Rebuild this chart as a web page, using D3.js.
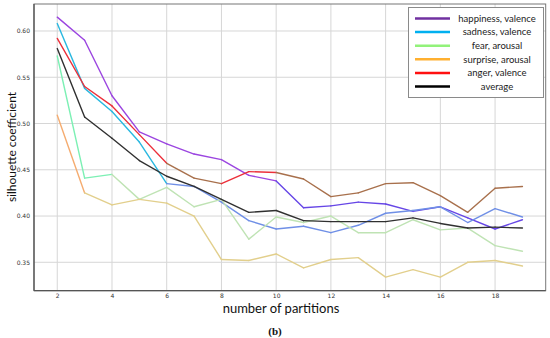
<!DOCTYPE html>
<html><head><meta charset="utf-8">
<script src="https://cdn.jsdelivr.net/npm/d3@7"></script>
<style>body{margin:0;background:#fff}svg{display:block}</style>
</head><body>
<svg id="c" width="550" height="338"></svg>
<script>
const partitions = [2,3,4,5,6,7,8,9,10,11,12,13,14,15,16,17,18,19];
const happiness = [0.615,0.590,0.530,0.491,0.478,0.467,0.461,0.444,0.438,0.409,0.411,0.415,0.413,0.405,0.410,0.398,0.386,0.396];
const sadness   = [0.608,0.538,0.513,0.480,0.435,0.432,0.415,0.395,0.386,0.389,0.382,0.390,0.403,0.406,0.410,0.393,0.408,0.399];
const fear      = [0.573,0.441,0.445,0.418,0.431,0.410,0.418,0.375,0.399,0.393,0.400,0.382,0.382,0.396,0.385,0.387,0.368,0.362];
const surprise  = [0.509,0.425,0.412,0.418,0.414,0.400,0.353,0.352,0.359,0.344,0.353,0.355,0.334,0.342,0.334,0.350,0.352,0.346];
const anger     = [0.592,0.540,0.519,0.488,0.457,0.441,0.435,0.448,0.447,0.440,0.421,0.425,0.435,0.436,0.422,0.404,0.430,0.432];
const average   = [0.581,0.507,0.484,0.460,0.443,0.432,0.418,0.404,0.406,0.395,0.394,0.394,0.394,0.398,0.392,0.387,0.388,0.387];
const seriesNames = ["happiness, valence","sadness, valence","fear, arousal","surprise, arousal","anger, valence","average"];
const xTicks = [2,4,6,8,10,12,14,16,18];
const yTicks = [0.35,0.40,0.45,0.50,0.55,0.60];

// styles
const legendColors = ["#7030a0","#00b0f0","#92f27a","#ffb030","#ff1010","#000000"];
const segStyles = [
  {early:"#9b45e0", late:"#6646e6", late_from:[8,9,10,11,12,13,14,15,16]},
  {early:"#2ab8e0", late:"#6f8fe6", late_from:[4,5,6,7,8,9,10,11,12,13,14,15,16]},
  {early:"#7cf0b4", late:"#bfe3b4", late_from:[2,3,4,5,6,7,8,9,10,11,12,13,14,15,16]},
  {early:"#f5ac70", late:"#e2cf8c", late_from:[1,2,3,4,5,6,7,8,9,10,11,12,13,14,15,16]},
  {early:"#ec2f3a", late:"#a8704c", late_from:[4,5,8,9,10,11,12,13,14,15,16]},
  {early:"#303030", late:"#303030", late_from:[]}
];
const allSeries = [happiness,sadness,fear,surprise,anger,average];

const svg = d3.select("#c");
const L=34, R=545.7, T=4, B=290.7;
const x = d3.scaleLinear().domain([1.15,19.85]).range([L,R]);
const y = d3.scaleLinear().domain([0.3193,0.62918]).range([B,T]);

// grid
svg.append("g").selectAll("line").data(xTicks).join("line")
  .attr("x1",d=>x(d)).attr("x2",d=>x(d)).attr("y1",T).attr("y2",B)
  .attr("stroke","#d6d6d6").attr("stroke-width",1);
svg.append("g").selectAll("line").data(yTicks).join("line")
  .attr("y1",d=>y(d)).attr("y2",d=>y(d)).attr("x1",L).attr("x2",R)
  .attr("stroke","#d6d6d6").attr("stroke-width",1);

// axes
const xAxis = d3.axisBottom(x).tickValues(xTicks).tickFormat(d3.format("d")).tickSize(0).tickPadding(3);
const yAxis = d3.axisLeft(y).tickValues(yTicks).tickFormat(d3.format(".2f")).tickSize(0).tickPadding(4);
const gx = svg.append("g").attr("transform",`translate(0,${B})`).call(xAxis);
const gy = svg.append("g").attr("transform",`translate(${L},0)`).call(yAxis);
[gx,gy].forEach(g=>{g.select(".domain").remove();
  g.selectAll("text").attr("font-family","DejaVu Sans").attr("font-size",6).attr("fill","#333");});

// lines
const line = d3.line().x(d=>x(d[0])).y(d=>y(d[1]));
allSeries.forEach((vals,si)=>{
  const st = segStyles[si];
  const g = svg.append("g");
  for(let i=0;i<vals.length-1;i++){
    const seg=[[partitions[i],vals[i]],[partitions[i+1],vals[i+1]]];
    g.append("path").attr("d",line(seg)).attr("fill","none")
      .attr("stroke", st.late_from.includes(i)?st.late:st.early)
      .attr("stroke-width",1.4).attr("stroke-linecap","round");
  }
});

// frame
svg.append("rect").attr("x",L).attr("y",T).attr("width",R-L).attr("height",B-T)
  .attr("fill","none").attr("stroke","#777").attr("stroke-width",1);
svg.append("line").attr("x1",L).attr("x2",L).attr("y1",T).attr("y2",B).attr("stroke","#555").attr("stroke-width",1.3);
svg.append("line").attr("x1",L).attr("x2",R).attr("y1",B).attr("y2",B).attr("stroke","#555").attr("stroke-width",1.3);

// legend
const lg = svg.append("g");
lg.append("rect").attr("x",408.5).attr("y",7.5).attr("width",135).attr("height",90)
  .attr("fill","#fff").attr("stroke","#8a8a8a").attr("stroke-width",1);
seriesNames.forEach((n,i)=>{
  const yy = 18.5 + i*13.6;
  lg.append("line").attr("x1",415).attr("x2",450).attr("y1",yy).attr("y2",yy)
    .attr("stroke",legendColors[i]).attr("stroke-width",2.5);
  lg.append("text").attr("x",497).attr("y",yy+3.2).attr("text-anchor","middle")
    .attr("font-family","Lato").attr("font-size",9.5).attr("fill","#222").text(n);
});

// labels
svg.append("text").attr("x",281).attr("y",313).attr("text-anchor","middle")
  .attr("font-family","Lato").attr("font-size",13).attr("fill","#111").text("number of partitions");
svg.append("text").attr("transform","translate(16,147) rotate(-90)").attr("text-anchor","middle")
  .attr("font-family","Lato").attr("font-size",12).attr("fill","#111").text("silhouette coefficient");
svg.append("text").attr("x",275).attr("y",335).attr("text-anchor","middle")
  .attr("font-family","Liberation Serif").attr("font-weight","bold").attr("font-size",11).attr("fill","#111").text("(b)");
</script>
</body></html>
